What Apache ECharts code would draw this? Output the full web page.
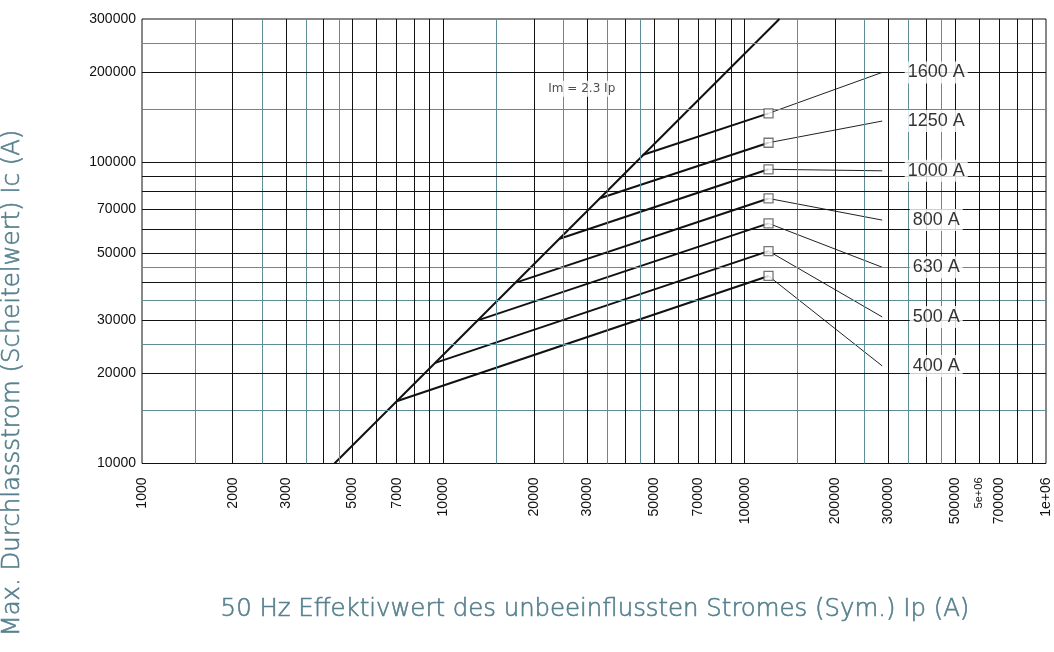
<!DOCTYPE html>
<html><head><meta charset="utf-8">
<script src="https://cdn.jsdelivr.net/npm/echarts@6/dist/echarts.min.js"></script>
<style>html,body{margin:0;padding:0;background:#fff}#c{width:1054px;height:652px}</style>
</head><body><div id="c"></div><script>
// ---- tick labels ----
const xTickValues = [1000,2000,3000,5000,7000,10000,20000,30000,50000,70000,100000,200000,300000,500000,600000,700000,1000000];
const xTickLabels = ['1000','2000','3000','5000','7000','10000','20000','30000','50000','70000','100000','200000','300000','500000','5e+06','700000','1e+06'];
const yTickValues = [10000,20000,30000,50000,70000,100000,200000,300000];
const yTickLabels = ['10000','20000','30000','50000','70000','100000','200000','300000'];

// ---- grid lines ----
const gridBlackX = [2000,3000,4000,5000,6000,7000,8000,9000,10000,20000,30000,40000,50000,60000,70000,80000,90000,100000,200000,300000,400000,500000,600000,700000,800000,900000];
const gridTealX = [1500,2500,3500,4500,15000,25000,35000,45000,150000,250000,350000,450000];
const gridBlackY = [20000,30000,40000,50000,60000,70000,80000,90000,100000,200000];
const gridTealY = [15000,25000,35000,45000,150000,250000];

// ---- data ----
const mainLineIp = [4350, 130400];
const mainLineIc = [10000, 300000];
const breakerNames = ['400 A','500 A','630 A','800 A','1000 A','1250 A','1600 A'];
const kneeIp = [7000, 9400, 13000, 17500, 24300, 33100, 45800];
const kneeIc = [16100, 21600, 29900, 40000, 55800, 76100, 106000];
const endIp = [120000,120000,120000,120000,120000,120000,120000];
const endIc = [42000, 50800, 62800, 76000, 95000, 116400, 145700];
const leaderIp = [286000,286000,286000,286000,286000,286000,286000];
const leaderIc = [21100, 30700, 44900, 64400, 93900, 137400, 199400];
const formulaText = 'Im = 2.3 Ip';
const formulaPos = [28800, 176000];

const xTitle = '50 Hz Effektivwert des unbeeinflussten Stromes (Sym.) Ip (A)';
const yTitle = 'Max. Durchlassstrom (Scheitelwert) Ic (A)';

function lookup(vals, labels, v){
  for (let i=0;i<vals.length;i++){ if (Math.abs(Math.log10(vals[i]) - Math.log10(v)) < 1e-4) return labels[i]; }
  return '';
}

const chart = echarts.init(document.getElementById('c'), null, {renderer:'canvas'});
const TEAL = '#5f8e97';
const BLK = '#111';
const TITLE = '#56808e';

function gridSeries(xs, ys, color){
  return {
    type:'line', data:[], silent:true, z:1,
    markLine:{
      silent:true, symbol:['none','none'], label:{show:false}, animation:false,
      emphasis:{disabled:true},
      lineStyle:{color:color, width:1, type:'solid'},
      data: xs.map(v=>({xAxis:v})).concat(ys.map(v=>({yAxis:v})))
    }
  };
}

const series = [
  gridSeries(gridTealX, gridTealY, TEAL),
  gridSeries(gridBlackX, gridBlackY, BLK),
  {type:'line', data: mainLineIp.map((x,i)=>[x, mainLineIc[i]]), symbol:'none', silent:true, z:3,
   lineStyle:{color:BLK, width:2}}
];
breakerNames.forEach((n,i)=>{
  series.push({type:'line', data:[[kneeIp[i],kneeIc[i]],[endIp[i],endIc[i]]], symbol:'none', silent:true, z:3,
    lineStyle:{color:BLK, width:2}});
  series.push({type:'line', data:[[endIp[i],endIc[i]],[leaderIp[i],leaderIc[i]]], symbol:'none', silent:true, z:3,
    lineStyle:{color:'#222', width:1}});
});
series.push({type:'scatter', data: endIp.map((x,i)=>[x,endIc[i]]), symbol:'rect', symbolSize:9, silent:true, z:5,
  itemStyle:{color:'#fff', borderColor:'#555', borderWidth:1.3}});
series.push({type:'scatter', data: leaderIp.map((x,i)=>({value:[x,leaderIc[i]], name:breakerNames[i]})), symbolSize:0.1, silent:true, z:6,
  itemStyle:{color:'rgba(0,0,0,0)'},
  label:{show:true, position:'right', distance:54, align:'center', verticalAlign:'middle', formatter:'{b}',
    fontFamily:'Liberation Sans', fontSize:18, color:'#000', backgroundColor:'#fff', padding:[1,3], lineHeight:20}});
series.push({type:'scatter', data:[{value:formulaPos, name:formulaText}], symbolSize:0.1, silent:true, z:6,
  itemStyle:{color:'rgba(0,0,0,0)'},
  label:{show:true, position:'inside', formatter:'{b}', fontFamily:'DejaVu Sans', fontSize:12, color:'#222',
    backgroundColor:'#fff', padding:[2,4]}});

chart.setOption({
  animation:false,
  backgroundColor:'#fff',
  grid:{left:142, top:19, width:904, height:444.5, show:true, borderColor:BLK, borderWidth:1, backgroundColor:'transparent'},
  xAxis:{type:'log', logBase:10, min:1000, max:1000000,
    axisLine:{show:false}, axisTick:{show:false}, splitLine:{show:false},
    axisLabel:{customValues:xTickValues, rotate:90, margin:14, fontFamily:'Liberation Sans', fontSize:14, color:'#111',
      hideOverlap:false, showMinLabel:true, showMaxLabel:true,
      formatter:(v)=>{ const s = lookup(xTickValues, xTickLabels, v); return s==='5e+06' ? '{s|'+s+'}' : s; },
      rich:{s:{fontSize:11, fontFamily:'Liberation Sans', color:'#111'}}}},
  yAxis:{type:'log', logBase:10, min:10000, max:300000,
    axisLine:{show:false}, axisTick:{show:false}, splitLine:{show:false},
    axisLabel:{customValues:yTickValues, margin:6, fontFamily:'Liberation Sans', fontSize:14, color:'#111',
      hideOverlap:false, showMinLabel:true, showMaxLabel:true,
      formatter:(v)=>lookup(yTickValues, yTickLabels, v)}},
  graphic:[
    {type:'text', x:595, y:610, silent:true, style:{text:xTitle, fontFamily:'DejaVu Sans', fontWeight:200, fontSize:24.4, fill:TITLE, stroke:TITLE, lineWidth:0.6, align:'center', verticalAlign:'middle'}},
    {type:'text', x:13, y:383, rotation:Math.PI/2, silent:true, style:{text:yTitle, fontFamily:'DejaVu Sans', fontWeight:200, fontSize:24.4, fill:TITLE, stroke:TITLE, lineWidth:0.6, align:'center', verticalAlign:'middle'}}
  ],
  series: series
});
</script></body></html>
